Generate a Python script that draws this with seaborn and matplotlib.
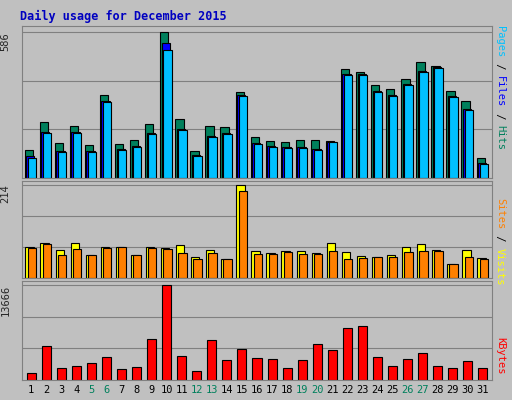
import matplotlib
matplotlib.use("Agg")
import matplotlib.pyplot as plt
import seaborn as sns
import numpy as np

days = list(range(1, 32))
hits = [112,224,140,208,132,332,136,152,216,586,236,108,208,204,344,164,148,144,152,152,148,436,424,372,356,396,464,448,348,308,80]
files = [88,186,110,186,110,310,118,130,182,540,198,92,170,182,334,142,130,126,126,118,146,418,418,350,334,378,430,444,330,278,62]
pages = [80,180,104,180,104,304,112,124,176,512,192,88,164,176,328,136,124,120,120,112,144,412,412,344,328,372,424,440,324,272,56]
visits = [71,80,64,81,52,71,71,52,71,69,76,48,64,43,214,62,57,62,62,57,81,60,50,48,52,71,79,64,33,64,45]
sites = [69,78,52,67,52,69,71,52,69,67,57,43,57,43,200,55,55,60,55,55,62,43,45,48,48,60,62,62,33,48,43]
kbytes = [1040,4900,1780,2080,2380,3270,1630,1930,5940,13666,3420,1340,5790,2820,4450,3120,2970,1780,2820,5200,4310,7430,7720,3270,2080,2970,3860,2080,1780,2670,1780]
weekends = [5,6,12,13,19,20,26,27]

sns.set_style("white")
W, H = 512, 400
fig = plt.figure(figsize=(W/100, H/100), dpi=100, facecolor="#C0C0C0")
mono = "DejaVu Sans Mono"

def ax_at(x0, y0, x1, y1):
    return fig.add_axes([x0/W, 1-y1/H, (x1-x0)/W, (y1-y0)/H])

def style(ax, top, ticks_x=False):
    ax.set_facecolor("#C0C0C0")
    ax.set_xlim(0.4, 31.6)
    ax.set_ylim(0, top*1.04)
    ax.set_yticks([top/3, 2*top/3, top])
    ax.set_yticklabels([])
    ax.grid(axis="y", color="#808080", lw=0.8)
    ax.set_axisbelow(True)
    ax.tick_params(length=0)
    ax.set_xlabel(""); ax.set_ylabel("")
    for s in ax.spines.values():
        s.set_color("#808080")
    if ticks_x:
        ax.set_xticks(days)
        ax.set_xticklabels([str(d) for d in days], fontsize=7.5, family=mono)
        for lab, d in zip(ax.get_xticklabels(), days):
            lab.set_color("#00805C" if d in weekends else "black")
    else:
        ax.set_xticks([])
    ax.text(-0.025, 1/1.04, f"{top}", transform=ax.transAxes, rotation=90,
            ha="right", va="top", fontsize=7.5, family=mono)

def bars(ax, off, vals, color, w=0.55):
    sns.barplot(x=np.array(days)+off, y=vals, native_scale=True, width=w,
                color=color, edgecolor="black", linewidth=0.8, saturation=1, ax=ax)

fig.text(20/W, 1-16/H, "Daily usage for December 2015", color="#0000C0",
         fontsize=8.5, weight="bold", family=mono, va="center")

a1 = ax_at(22, 26, 492, 178)
bars(a1, -0.15, hits, "#00805C"); bars(a1, -0.05, files, "#0000FF"); bars(a1, 0.05, pages, "#00C0FF")
style(a1, 586)
a2 = ax_at(22, 181, 492, 278)
bars(a2, -0.1, visits, "#FFFF00"); bars(a2, 0.05, sites, "#FF8000")
style(a2, 214)
a3 = ax_at(22, 281, 492, 380)
bars(a3, 0, kbytes, "#FF0000", w=0.6)
style(a3, 13666, ticks_x=True)

def rlabel(y0, parts):
    y = y0
    for txt, col in parts:
        t = fig.text(500/W, 1-y/H, txt, rotation=-90, color=col, fontsize=7.5,
                     family=mono, ha="center", va="top")
        y += len(txt)*6.2
rlabel(26, [("Pages", "#00C0FF"), (" / ", "black"), ("Files", "#0000FF"), (" / ", "black"), ("Hits", "#00805C")])
rlabel(198, [("Sites", "#FF8000"), (" / ", "black"), ("Visits", "#FFFF00")])
rlabel(337, [("KBytes", "#FF0000")])

fig.savefig("out.png", dpi=100, facecolor="#C0C0C0")
